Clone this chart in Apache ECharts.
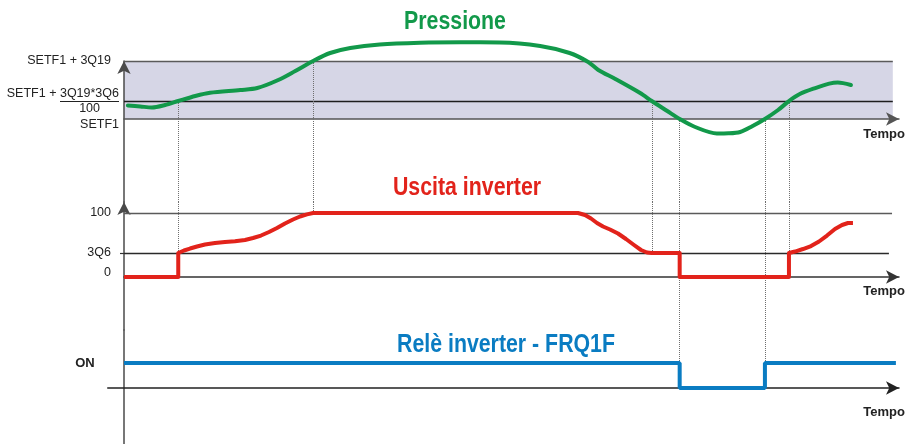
<!DOCTYPE html>
<html>
<head>
<meta charset="utf-8">
<title>Pressione / Uscita inverter / Relè inverter</title>
<script src="https://cdn.jsdelivr.net/npm/echarts@6/dist/echarts.min.js"></script>
<style>
  html, body { margin: 0; padding: 0; background: #ffffff; }
  #chart { width: 906px; height: 444px; }
</style>
</head>
<body>
<div id="chart"></div>
<script>
// ---- Time axis (arbitrary units, 0 .. 100) ----
const timeMax = 100;

// ---- Pressure (SETF1 = 0, SETF1 + 3Q19 = 10) ----
const pressTime  = [0.5, 2.1, 3.6, 5.3, 7.0, 9.2, 11.1, 15.0, 17.2, 19.9, 22.1, 24.4, 26.6, 29.2, 33.0, 38.2, 43.4, 48.5, 53.7, 57.5, 59.9, 61.2, 63.4, 66.6, 68.1, 70.1, 71.7, 73.7, 76.5, 78.0, 79.5, 81.0, 82.7, 84.4, 85.8, 87.2, 89.2, 91.0, 92.1, 93.8];
const pressValue = [2.33, 2.16, 1.98, 2.41, 3.1, 3.97, 4.53, 5.0, 5.34, 6.72, 8.28, 10, 11.38, 12.24, 12.84, 13.14, 13.22, 13.19, 12.59, 11.38, 9.83, 8.45, 6.9, 4.48, 3.1, 1.38, 0, -1.38, -2.5, -2.47, -2.24, -1.29, 0, 1.55, 3.1, 4.31, 5.34, 6.1, 6.29, 5.86];
const pressTicks = [10, 3.1, 0];
const pressBand  = [0, 10];          // SETF1 .. SETF1 + 3Q19
const pressLines = [10, 3.1];

// ---- Inverter output (0 .. 100, 3Q6 = 37.5) ----
const invTime  = [0, 7.0, 7.0, 7.74, 8.52, 9.42, 10.45, 11.74, 13.03, 14.32, 15.61, 16.65, 17.68, 18.71, 19.74, 20.77, 21.81, 22.71, 23.61, 24.4,
                  58.58, 59.48, 60.26, 61.03, 61.81, 62.71, 63.74, 64.77, 65.81, 66.71, 67.48, 68.1, 71.7, 71.7, 85.8, 85.8,
                  86.58, 87.61, 88.65, 89.68, 90.71, 91.74, 92.65, 93.42, 94.06];
const invValue = [0, 0, 37.5, 41.4, 44.5, 47.7, 50.8, 53.1, 54.7, 55.8, 57.8, 60.9, 64.8, 70.3, 76.6, 83.6, 89.8, 94.5, 97.9, 100,
                  100, 96.9, 91.4, 84.4, 78.9, 74.2, 68, 59.4, 50, 42.2, 38.3, 37.5, 37.5, 0, 0, 37.5,
                  39.8, 43.75, 48.4, 55.5, 64.8, 75, 81.25, 84.4, 84.4];
const invTicks = [100, 37.5, 0];
const invLines = [100, 37.5];
const invLineEnd = [99.1, 98.7];

// ---- Inverter relay FRQ1F (1 = ON, 0 = OFF) ----
const relayTime  = [0, 71.7, 71.7, 82.7, 82.7, 99.6];
const relayValue = [1, 1, 0, 0, 1, 1];
const relayTicks = [1];

// ---- Switching instants and the levels they connect ----
const guideTime  = [7.0, 24.4, 68.1, 71.7, 82.7, 85.8];
const guidePress = [3.1, 10, 3.1, 0, 0, 3.1];
const guideInv   = [37.5, 100, 37.5, null, null, 37.5];   // null: runs through the whole panel
const guideRelay = [null, null, null, 1, 1, null];

const bandEnd = 99.2;

// axis ranges chosen so the three panels stack edge to edge
const PRESS_MIN = -14.31, PRESS_MAX = 10;
const INV_MIN = -82.8, INV_MAX = 117.2;
const REL_MIN = -2.24, REL_MAX = 2.32;
const REL_XMIN = -2.1;

const GREEN = '#12994a', RED = '#e2231b', BLUE = '#0a7cc2';
const LABEL_FONT = '"Liberation Sans", Arial, sans-serif';
const TITLE_FONT = 'bold 26px "Liberation Sans", Arial, sans-serif';

const pressLabelText = {
  '10': '{top|SETF1 + 3Q19}',
  '3.1': '{num|SETF1 + 3Q19*3Q6}\n{bar| }\n{den|100}',
  '0': '{bot|SETF1}'
};
const invLabelText = { '100': '{n|100}', '37.5': '{n|3Q6}', '0': '{zero|0}' };
const relayLabelText = { '1': 'ON' };

function arrowAxisLine(color, width, withArrow) {
  return {
    show: true,
    onZero: true,
    symbol: withArrow ? ['none', 'arrow'] : ['none', 'none'],
    symbolSize: [10, 13],
    lineStyle: { color: color, width: width }
  };
}

function xAxisFor(gridIndex, minVal, color, namePad) {
  return {
    type: 'value', gridIndex: gridIndex, min: minVal, max: timeMax, z: 3,
    axisLine: arrowAxisLine(color, 1.5, true),
    axisTick: { show: false }, axisLabel: { show: false }, splitLine: { show: false },
    name: 'Tempo', nameLocation: 'end', nameGap: 6,
    nameTextStyle: {
      align: 'right', verticalAlign: 'top', padding: [namePad, 0, 0, 0],
      fontFamily: LABEL_FONT, fontWeight: 'bold', fontSize: 13, color: '#222'
    }
  };
}

function titleText(text, x, y, color, align) {
  return {
    type: 'text', x: x, y: y, z: 20, scaleX: 0.82, silent: true,
    style: { text: text, fill: color, font: TITLE_FONT, align: align, verticalAlign: 'middle' }
  };
}

const zip = (xs, ys) => xs.map((x, i) => [x, ys[i]]);
const hLine = (x0, x1, y) => [{ coord: [x0, y] }, { coord: [x1, y] }];
const vLine = (x, y0, y1) => [{ coord: [x, y0] }, { coord: [x, y1] }];

const guideStyle = { color: '#6f6f6f', width: 1, type: 'dotted' };
const markBase = { silent: true, symbol: ['none', 'none'], label: { show: false }, emphasis: { disabled: true }, animation: false };

const guidesA = [], guidesB = [], guidesC = [];
guideTime.forEach((t, i) => {
  guidesA.push(vLine(t, guidePress[i], PRESS_MIN));
  guidesB.push(vLine(t, INV_MAX, guideInv[i] === null ? INV_MIN : guideInv[i]));
  if (guideRelay[i] !== null) guidesC.push(vLine(t, REL_MAX, guideRelay[i]));
});

const option = {
  animation: false,
  backgroundColor: '#ffffff',
  grid: [
    { left: 124, top: 61, width: 775, height: 141, outerBoundsMode: 'none' },
    { left: 124, top: 202, width: 775, height: 128, outerBoundsMode: 'none' },
    { left: 124 + REL_XMIN * 7.75, top: 330, width: 775 - REL_XMIN * 7.75, height: 114, outerBoundsMode: 'none' }
  ],
  xAxis: [
    xAxisFor(0, 0, '#555', 9),
    xAxisFor(1, 0, '#333', 8),
    xAxisFor(2, REL_XMIN, '#222', 18)
  ],
  yAxis: [
    {
      type: 'value', gridIndex: 0, min: PRESS_MIN, max: PRESS_MAX, z: 3,
      axisLine: arrowAxisLine('#4a4a4a', 1.5, true),
      axisTick: { show: false }, splitLine: { show: false },
      axisLabel: {
        customValues: pressTicks, margin: 5,
        fontFamily: LABEL_FONT, fontSize: 12.5, color: '#222',
        formatter: v => pressLabelText[String(v)] || '',
        rich: {
          top: { fontFamily: LABEL_FONT, fontSize: 12.5, color: '#222', padding: [0, 8, 0, 0] },
          num: { fontFamily: LABEL_FONT, fontSize: 12.5, color: '#222', lineHeight: 14 },
          bar: { width: 59, height: 1, lineHeight: 2, fontSize: 1, backgroundColor: '#222' },
          den: { fontFamily: LABEL_FONT, fontSize: 12.5, color: '#222', lineHeight: 13, padding: [0, 19, 0, 0] },
          bot: { fontFamily: LABEL_FONT, fontSize: 12.5, color: '#222', padding: [12, 0, 0, 0] }
        }
      }
    },
    {
      type: 'value', gridIndex: 1, min: INV_MIN, max: INV_MAX, z: 3,
      axisLine: arrowAxisLine('#4a4a4a', 1.5, true),
      axisTick: { show: true, customValues: [37.5], length: 4, inside: false, lineStyle: { color: '#333', width: 1.2 } },
      splitLine: { show: false },
      axisLabel: {
        customValues: invTicks, margin: 13,
        fontFamily: LABEL_FONT, fontSize: 12.5, color: '#222',
        formatter: v => invLabelText[String(v)] || '',
        rich: {
          n: { fontFamily: LABEL_FONT, fontSize: 12.5, color: '#222' },
          zero: { fontFamily: LABEL_FONT, fontSize: 12.5, color: '#222', padding: [0, 0, 8, 0] }
        }
      }
    },
    {
      type: 'value', gridIndex: 2, min: REL_MIN, max: REL_MAX, z: 3,
      axisLine: arrowAxisLine('#4a4a4a', 1.5, false),
      axisTick: { show: false }, splitLine: { show: false },
      axisLabel: {
        customValues: relayTicks, margin: 13,
        fontFamily: LABEL_FONT, fontSize: 13, fontWeight: 'bold', color: '#222',
        formatter: v => relayLabelText[String(v)] || ''
      }
    }
  ],
  graphic: [
    titleText('Pressione', 455, 22, GREEN, 'center'),
    titleText('Uscita inverter', 467, 188, RED, 'center'),
    titleText('Relè inverter - FRQ1F', 615, 345, BLUE, 'right')
  ],
  series: [
    // threshold band and reference levels of the pressure panel
    {
      type: 'line', xAxisIndex: 0, yAxisIndex: 0, data: [], z: 1, silent: true,
      markArea: {
        silent: true, label: { show: false }, emphasis: { disabled: true },
        itemStyle: { color: '#d6d6e6', opacity: 1 },
        data: [[{ coord: [0, pressBand[0]] }, { coord: [bandEnd, pressBand[1]] }]]
      },
      markLine: Object.assign({}, markBase, {
        lineStyle: { color: '#333', width: 1.3, type: 'solid' },
        data: pressLines.map((v, i) => {
          const seg = hLine(0, bandEnd, v);
          seg[0].lineStyle = { color: i === 0 ? '#5a5a5a' : '#1e1e1e', width: 1.3, type: 'solid' };
          return seg;
        })
      })
    },
    {
      type: 'line', xAxisIndex: 0, yAxisIndex: 0, data: [], z: 2, silent: true,
      markLine: Object.assign({}, markBase, { lineStyle: guideStyle, data: guidesA })
    },
    // reference levels of the inverter panel
    {
      type: 'line', xAxisIndex: 1, yAxisIndex: 1, data: [], z: 2, silent: true,
      markLine: Object.assign({}, markBase, {
        lineStyle: { color: '#444', width: 1.3, type: 'solid' },
        data: invLines.map((v, i) => {
          const seg = hLine(0, invLineEnd[i], v);
          seg[0].lineStyle = { color: i === 0 ? '#5a5a5a' : '#2a2a2a', width: 1.3, type: 'solid' };
          return seg;
        })
      })
    },
    {
      type: 'line', xAxisIndex: 1, yAxisIndex: 1, data: [], z: 2, silent: true,
      markLine: Object.assign({}, markBase, { lineStyle: guideStyle, data: guidesB })
    },
    {
      type: 'line', xAxisIndex: 2, yAxisIndex: 2, data: [], z: 2, silent: true,
      markLine: Object.assign({}, markBase, { lineStyle: guideStyle, data: guidesC })
    },
    // the three signals
    {
      name: 'Pressione', type: 'line', xAxisIndex: 0, yAxisIndex: 0, z: 10, clip: false,
      data: zip(pressTime, pressValue), smooth: 0.3, showSymbol: false, silent: true,
      lineStyle: { color: GREEN, width: 4, cap: 'round', join: 'round' }
    },
    {
      name: 'Uscita inverter', type: 'line', xAxisIndex: 1, yAxisIndex: 1, z: 10,
      data: zip(invTime, invValue), smooth: false, showSymbol: false, silent: true,
      lineStyle: { color: RED, width: 4, join: 'round' }
    },
    {
      name: 'Relè inverter - FRQ1F', type: 'line', xAxisIndex: 2, yAxisIndex: 2, z: 10,
      data: zip(relayTime, relayValue), smooth: false, showSymbol: false, silent: true,
      lineStyle: { color: BLUE, width: 4 }
    }
  ]
};

const chart = echarts.init(document.getElementById('chart'), null, { renderer: 'canvas' });
chart.setOption(option);
</script>
</body>
</html>
